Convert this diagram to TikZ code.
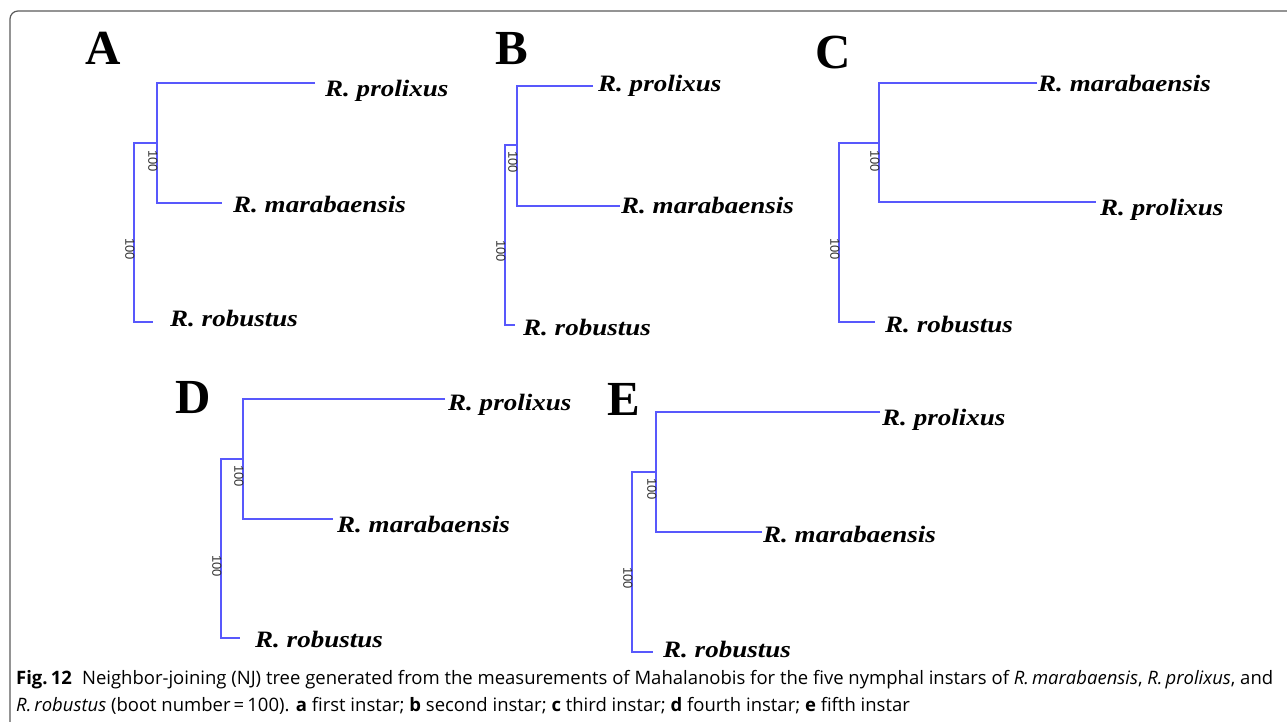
\documentclass[tikz,border=0pt]{standalone}
\usepackage{fontspec}
\newfontfamily\spfont[FakeStretch=1.15]{Liberation Serif}
\newfontfamily\letfont{Liberation Serif}
\newfontfamily\bootfont{Liberation Sans}
\newfontfamily\capfont{Open Sans}
\definecolor{treeblue}{RGB}{88,88,252}
\definecolor{framegray}{RGB}{90,90,90}
\newsavebox\capboxa
\newsavebox\capboxb
\newdimen\capwd
\tikzset{
  br/.style={draw=treeblue,line width=1.6pt,line join=miter},
  sp/.style={anchor=base west,inner sep=0pt,font=\spfont\bfseries\itshape\fontsize{23.5}{27}\selectfont},
  boot/.style={rotate=-90,anchor=north,inner sep=0.3pt,font=\bootfont\fontsize{13}{14}\selectfont,text=black!80},
  panel/.style={anchor=base west,inner sep=0pt,font=\letfont\bfseries\fontsize{49}{55}\selectfont},
  capline/.style={anchor=base west,inner sep=0pt}
}
\begin{document}
\sbox\capboxa{\capfont\fontsize{18.5}{21}\selectfont\textbf{Fig.\,12}\hspace{0.55em}Neighbor-joining (NJ) tree generated from the measurements of Mahalanobis for the five nymphal instars of \textit{R.\,marabaensis}, \textit{R.\,prolixus}, and}%
\sbox\capboxb{\capfont\fontsize{18.5}{21}\selectfont\textit{R.\,robustus} (boot number\,=\,100). \textbf{a} first instar; \textbf{b} second instar; \textbf{c} third instar; \textbf{d} fourth instar; \textbf{e} fifth instar}%
\capwd=\wd\capboxa
\pgfmathsetmacro\capscale{1257/\capwd}%
\begin{tikzpicture}[x=1pt,y=-1pt]
\useasboundingbox (0,0) rectangle (1287,722);
\begin{scope}
\clip (0,0) rectangle (1287,722);
\draw[framegray,line width=1.2pt,rounded corners=8pt] (10,11) rectangle (1310,745);
\end{scope}

% ---------- Panel A ----------
\node[panel] (LA) at (85,65) {A};
\coordinate (Art) at (134,143);
\coordinate (Arb) at (134,322);
\coordinate (Ait) at (157,83);
\coordinate (Aib) at (157,203);
\coordinate (Aij) at (157,143);
\coordinate (Ae1) at (315,83);
\coordinate (Ae2) at (222,203);
\coordinate (Ae3) at (153,322);
\node[sp] (Al1) at (325,97) {R. prolixus};
\node[sp] (Al2) at (233,212) {R. marabaensis};
\node[sp] (Al3) at (170,326) {R. robustus};
\draw[br] (Ae1) -- (Ait) -- (Aib) -- (Ae2);
\draw[br] (Aij) -- (Art) -- (Arb) -- (Ae3);
\node[boot] (Ab1) at (158,161) {100};
\node[boot] (Ab2) at (135,249) {100};

% ---------- Panel B ----------
\node[panel] (LB) at (495,65) {B};
\coordinate (Brt) at (505,145);
\coordinate (Brb) at (505,325);
\coordinate (Bit) at (517,86);
\coordinate (Bib) at (517,206);
\coordinate (Bij) at (517,145);
\coordinate (Be1) at (593,86);
\coordinate (Be2) at (620,206);
\coordinate (Be3) at (515,325);
\node[sp] (Bl1) at (598,92) {R. prolixus};
\node[sp] (Bl2) at (621,213) {R. marabaensis};
\node[sp] (Bl3) at (523,335) {R. robustus};
\draw[br] (Be1) -- (Bit) -- (Bib) -- (Be2);
\draw[br] (Bij) -- (Brt) -- (Brb) -- (Be3);
\node[boot] (Bb1) at (518,162) {100};
\node[boot] (Bb2) at (506,251) {100};

% ---------- Panel C ----------
\node[panel] (LC) at (815,69) {C};
\coordinate (Crt) at (839,143);
\coordinate (Crb) at (839,322);
\coordinate (Cit) at (879,83);
\coordinate (Cib) at (879,202);
\coordinate (Cij) at (879,143);
\coordinate (Ce1) at (1037,83);
\coordinate (Ce2) at (1096,202);
\coordinate (Ce3) at (875,322);
\node[sp] (Cl1) at (1038,92) {R. marabaensis};
\node[sp] (Cl2) at (1100,215) {R. prolixus};
\node[sp] (Cl3) at (885,332) {R. robustus};
\draw[br] (Ce1) -- (Cit) -- (Cib) -- (Ce2);
\draw[br] (Cij) -- (Crt) -- (Crb) -- (Ce3);
\node[boot] (Cb1) at (880,161) {100};
\node[boot] (Cb2) at (840,249) {100};

% ---------- Panel D ----------
\node[panel] (LD) at (175,413) {D};
\coordinate (Drt) at (221,459);
\coordinate (Drb) at (221,638);
\coordinate (Dit) at (243,399);
\coordinate (Dib) at (243,519);
\coordinate (Dij) at (243,459);
\coordinate (De1) at (445,399);
\coordinate (De2) at (333,519);
\coordinate (De3) at (240,638);
\node[sp] (Dl1) at (448,410) {R. prolixus};
\node[sp] (Dl2) at (337,532) {R. marabaensis};
\node[sp] (Dl3) at (255,647) {R. robustus};
\draw[br] (De1) -- (Dit) -- (Dib) -- (De2);
\draw[br] (Dij) -- (Drt) -- (Drb) -- (De3);
\node[boot] (Db1) at (244,476) {100};
\node[boot] (Db2) at (222,566) {100};

% ---------- Panel E ----------
\node[panel] (LE) at (607,415) {E};
\coordinate (Ert) at (632,472);
\coordinate (Erb) at (632,652);
\coordinate (Eit) at (656,412);
\coordinate (Eib) at (656,532);
\coordinate (Eij) at (656,472);
\coordinate (Ee1) at (880,412);
\coordinate (Ee2) at (762,532);
\coordinate (Ee3) at (653,652);
\node[sp] (El1) at (882,425) {R. prolixus};
\node[sp] (El2) at (763,542) {R. marabaensis};
\node[sp] (El3) at (663,657) {R. robustus};
\draw[br] (Ee1) -- (Eit) -- (Eib) -- (Ee2);
\draw[br] (Eij) -- (Ert) -- (Erb) -- (Ee3);
\node[boot] (Eb1) at (657,489) {100};
\node[boot] (Eb2) at (633,578) {100};

% ---------- Caption ----------
\node[capline] (cap1) at (16,684) {\scalebox{\capscale}[1]{\usebox\capboxa}};
\node[capline] (cap2) at (16,711) {\scalebox{\capscale}[1]{\usebox\capboxb}};
\end{tikzpicture}
\end{document}
